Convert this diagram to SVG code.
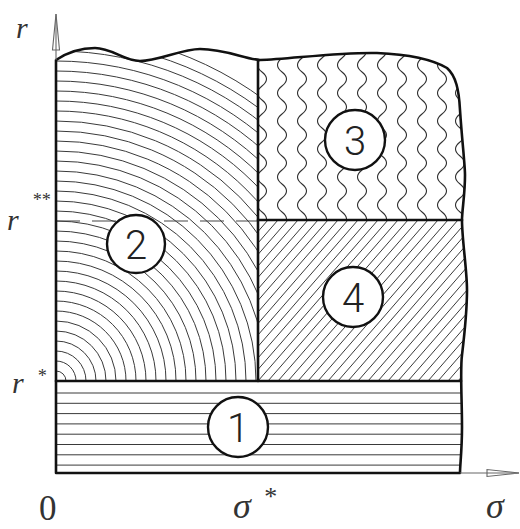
<svg xmlns="http://www.w3.org/2000/svg" xmlns:xlink="http://www.w3.org/1999/xlink" width="520" height="529" viewBox="0 0 520 529">
<style>
.h{stroke:#3a3a3a;stroke-width:1;fill:none}
.w{stroke:#333;stroke-width:1.1;fill:none}
.b{stroke:#111;stroke-width:2.6;fill:none;stroke-linecap:round;stroke-linejoin:round}
.ax{stroke:#666;stroke-width:1.1;fill:none}
.lbl{font-family:"Liberation Serif",serif;font-style:italic;fill:#333}
.num{font-family:Roboto,"Liberation Sans",sans-serif;font-weight:300;font-size:40px;fill:#222;text-anchor:middle}
.cir{fill:#fff;stroke:#111;stroke-width:2.4}
</style>
<defs>
<path id="outer" d="M56,60 C68,52 82,48 95,48 C112,48 124,61 140,61 C158,61 182,49 200,49 C225,49 245,59 260,60 C290,59 340,52 377,53 C400,54 430,58 447,68 C456,76 459,90 460,110 C462,140 465,165 465,175 C465,195 462,210 462,220 C462,240 467,270 467,290 C467,310 465,330 462,355 C460,370 462,400 462,427 C462,450 460,465 460,473 L56,473 Z"/>
<clipPath id="cOuter"><use xlink:href="#outer"/></clipPath>
<clipPath id="r2"><rect x="56" y="0" width="202" height="381"/></clipPath>
<clipPath id="r3"><rect x="258" y="0" width="220" height="220"/></clipPath>
<clipPath id="r4"><rect x="258" y="220" width="220" height="161"/></clipPath>
<clipPath id="r1"><rect x="56" y="381" width="420" height="92"/></clipPath>
<path id="wv" class="w" d="M0,44 q9,7 0,14 t0,14 t0,14 t0,14 t0,14 t0,14 t0,14 t0,14 t0,14 t0,14 t0,14 t0,14 t0,14"/>
</defs>

<g id="region-2" clip-path="url(#cOuter)">
<g clip-path="url(#r2)">
<g class="h">
<circle cx="56" cy="381" r="10"/><circle cx="56" cy="381" r="20"/><circle cx="56" cy="381" r="30"/><circle cx="56" cy="381" r="40"/><circle cx="56" cy="381" r="50"/><circle cx="56" cy="381" r="60"/><circle cx="56" cy="381" r="70"/><circle cx="56" cy="381" r="80"/><circle cx="56" cy="381" r="90"/><circle cx="56" cy="381" r="100"/><circle cx="56" cy="381" r="110"/><circle cx="56" cy="381" r="120"/><circle cx="56" cy="381" r="130"/><circle cx="56" cy="381" r="140"/><circle cx="56" cy="381" r="150"/><circle cx="56" cy="381" r="160"/><circle cx="56" cy="381" r="170"/><circle cx="56" cy="381" r="180"/><circle cx="56" cy="381" r="190"/><circle cx="56" cy="381" r="200"/><circle cx="56" cy="381" r="210"/><circle cx="56" cy="381" r="220"/><circle cx="56" cy="381" r="230"/><circle cx="56" cy="381" r="240"/><circle cx="56" cy="381" r="250"/><circle cx="56" cy="381" r="260"/><circle cx="56" cy="381" r="270"/><circle cx="56" cy="381" r="280"/><circle cx="56" cy="381" r="290"/><circle cx="56" cy="381" r="300"/><circle cx="56" cy="381" r="310"/><circle cx="56" cy="381" r="320"/><circle cx="56" cy="381" r="330"/><circle cx="56" cy="381" r="340"/><circle cx="56" cy="381" r="350"/>
</g>
<line x1="56" y1="221" x2="258" y2="221" stroke="#444" stroke-width="1.1" stroke-dasharray="24 12"/>
</g>
<circle class="cir" cx="136" cy="244" r="29"/>
<text class="num" x="136" y="259">2</text>
</g>

<g id="region-3" clip-path="url(#cOuter)">
<g clip-path="url(#r3)">
<use xlink:href="#wv" x="262"/><use xlink:href="#wv" x="282"/><use xlink:href="#wv" x="302"/><use xlink:href="#wv" x="322"/><use xlink:href="#wv" x="342"/><use xlink:href="#wv" x="362"/><use xlink:href="#wv" x="382"/><use xlink:href="#wv" x="402"/><use xlink:href="#wv" x="422"/><use xlink:href="#wv" x="442"/><use xlink:href="#wv" x="460"/>
</g>
<circle class="cir" cx="355" cy="140" r="30"/>
<text class="num" x="355" y="155">3</text>
</g>

<g id="region-4" clip-path="url(#cOuter)">
<g clip-path="url(#r4)">
<path class="h" d="M118,381 l140,-161 M128,381 l140,-161 M138,381 l140,-161 M148,381 l140,-161 M158,381 l140,-161 M168,381 l140,-161 M178,381 l140,-161 M188,381 l140,-161 M198,381 l140,-161 M208,381 l140,-161 M218,381 l140,-161 M228,381 l140,-161 M238,381 l140,-161 M248,381 l140,-161 M258,381 l140,-161 M268,381 l140,-161 M278,381 l140,-161 M288,381 l140,-161 M298,381 l140,-161 M308,381 l140,-161 M318,381 l140,-161 M328,381 l140,-161 M338,381 l140,-161 M348,381 l140,-161 M358,381 l140,-161 M368,381 l140,-161 M378,381 l140,-161 M388,381 l140,-161 M398,381 l140,-161 M408,381 l140,-161 M418,381 l140,-161 M428,381 l140,-161 M438,381 l140,-161 M448,381 l140,-161 M458,381 l140,-161"/>
</g>
<circle class="cir" cx="353" cy="297" r="30"/>
<text class="num" x="353" y="312">4</text>
</g>

<g id="region-1" clip-path="url(#cOuter)">
<g clip-path="url(#r1)">
<path class="h" d="M56,393 H470 M56,403.3 H470 M56,413.6 H470 M56,423.9 H470 M56,434.2 H470 M56,444.5 H470 M56,454.8 H470 M56,465.1 H470"/>
</g>
<circle class="cir" cx="238" cy="427" r="30"/>
<text class="num" x="238" y="442">1</text>
</g>

<g id="boundaries">
<use xlink:href="#outer" class="b"/>
<line class="b" x1="258" y1="60" x2="258" y2="381"/>
<line class="b" x1="258" y1="220" x2="462" y2="220" stroke-width="2"/>
<line class="b" x1="56" y1="381" x2="461" y2="381"/>
</g>

<g id="axes">
<line class="ax" x1="56" y1="60" x2="56" y2="14"/>
<polygon class="ax" points="56,14 52.5,50 59.5,50"/>
<line class="ax" x1="460" y1="473" x2="519" y2="473"/>
<polygon class="ax" points="519,473 487,469.5 487,476.5"/>
</g>

<g id="labels">
<text class="lbl" x="16" y="38" font-size="30">r</text>
<text class="lbl" x="7" y="230" font-size="30">r</text>
<text class="lbl" x="32" y="206" font-size="18">**</text>
<text class="lbl" x="12" y="393" font-size="30">r</text>
<text class="lbl" x="37" y="382" font-size="18">*</text>
<text x="39" y="520" font-family="Liberation Serif,serif" font-size="35" fill="#333">0</text>
<text class="lbl" x="233" y="518" font-size="36">σ</text>
<text class="lbl" x="263" y="505" font-size="26">*</text>
<text class="lbl" x="486" y="518" font-size="36">σ</text>
</g>
</svg>
